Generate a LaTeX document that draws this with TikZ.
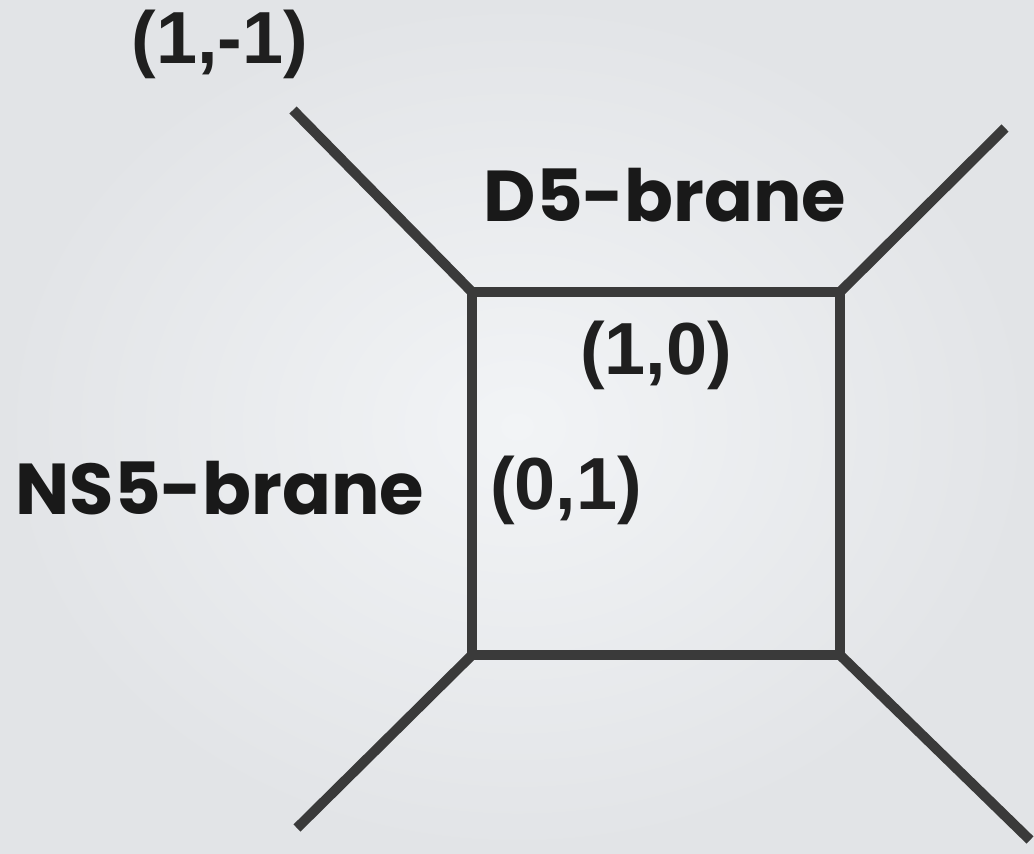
\documentclass[tikz,border=0pt]{standalone}
\usepackage{fontspec}
\setmainfont{Liberation Sans}
\newfontfamily\chargefont{Liberation Sans}
\newfontfamily\handfont{Poppins}
\definecolor{branecolor}{HTML}{3A3A3A}
\definecolor{bgoutercolor}{HTML}{E2E4E7}
\definecolor{bginnercolor}{HTML}{F2F4F6}
\tikzstyle{brane}=[line width=2.85pt, draw=branecolor, line join=miter]
\tikzstyle{charge}=[font=\chargefont\bfseries\fontsize{21}{25}\selectfont, text=black!88, inner sep=0pt]
\tikzstyle{branelabel}=[font=\handfont\bfseries\fontsize{20.5}{24}\selectfont, text=black!90, inner sep=0pt]

\begin{document}
\begin{tikzpicture}
	\shade[inner color=bginnercolor, outer color=bgoutercolor] (0,0) rectangle (10.34,8.53);
	\useasboundingbox (0,0) rectangle (10.34,8.53);
	% corners of the box
	\coordinate (topleft) at (4.72,5.61);
	\coordinate (topright) at (8.40,5.61);
	\coordinate (bottomright) at (8.40,1.98);
	\coordinate (bottomleft) at (4.72,1.98);
	% external legs
	\path (topleft) + (-1.79,1.82) coordinate (legNW);
	\path (topright) + (1.65,1.64) coordinate (legNE);
	\path (bottomleft) + (-1.75,-1.73) coordinate (legSW);
	\path (bottomright) + (1.90,-1.85) coordinate (legSE);
	\draw [brane] (topleft) -- (topright) -- (bottomright) -- (bottomleft) -- cycle;
	\draw [brane] (topleft) -- (legNW);
	\draw [brane] (topright) -- (legNE);
	\draw [brane] (bottomleft) -- (legSW);
	\draw [brane] (bottomright) -- (legSE);
	% labels
	\path (legNW) + (-0.73,0.66) node (chargeNW) [charge] {(1,-1)};
	\path (topleft) + (1.84,-0.63) node (chargetop) [charge] {(1,0)};
	\path (topleft) + (0.94,-1.98) node (chargeleft) [charge] {(0,1)};
	\path (topleft) + (1.93,0.97) node (dfive) [branelabel] {D5-brane};
	\path (topleft) + (-2.52,-1.96) node (nsfive) [branelabel] {NS5-brane};
\end{tikzpicture}
\end{document}
